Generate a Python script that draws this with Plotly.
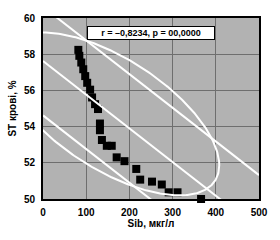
import numpy as np
import plotly.graph_objects as go

# data points (Sib, мкг/л ; ST крові, %)
sib = [81.8, 84.1, 88.6, 93.2, 97.7, 102.3, 109.1, 113.6, 120.5, 127.3, 131.8, 131.8,
       136.4, 147.7, 159.1, 170.5, 188.6, 215.9, 225.0, 252.3, 275.0, 290.9, 311.4, 365.9]
st = [58.24, 57.91, 57.54, 57.17, 56.79, 56.42, 56.04, 55.61, 55.24, 54.97, 54.17, 53.80,
      53.26, 52.94, 52.94, 52.30, 52.09, 51.66, 51.07, 50.96, 50.80, 50.37, 50.37, 50.0]

# regression line and prediction band
reg_intercept = 57.62
reg_slope = -0.0186
band_offset = 3.0
line_x = [0, 500]

# confidence ellipse parameters (data units)
ell_cx, ell_cy = 158.0, 54.7
ell_a, ell_b = 250.0, 4.5
ell_phi = np.arccos(-0.63)

x_ticks = [0, 100, 200, 300, 400, 500]
y_ticks = [50, 52, 54, 56, 58, 60]

FONT = "Liberation Sans, Arial, sans-serif"

fig = go.Figure()

fig.add_trace(go.Scatter(
    x=sib, y=st, mode="markers",
    marker=dict(symbol="square", size=8, color="black", line=dict(width=0)),
    cliponaxis=False, showlegend=False, hoverinfo="skip"))

for off in (band_offset, 0.0, -band_offset):
    ly = [reg_intercept + off + reg_slope * x for x in line_x]
    fig.add_trace(go.Scatter(x=line_x, y=ly, mode="lines",
                             line=dict(color="white", width=2),
                             showlegend=False, hoverinfo="skip"))

t = np.linspace(0, 2 * np.pi, 400)
ex = ell_cx + ell_a * np.cos(t)
ey = ell_cy + ell_b * np.cos(t + ell_phi)
fig.add_trace(go.Scatter(x=ex, y=ey, mode="lines",
                         line=dict(color="white", width=2),
                         showlegend=False, hoverinfo="skip"))

axis_common = dict(
    showgrid=True, gridcolor="#6e6e6e", gridwidth=1,
    showline=True, linecolor="black", linewidth=2, mirror=True,
    zeroline=False, ticks="", fixedrange=True, layer="below traces",
    tickfont=dict(family=FONT, size=10, color="black", weight="bold"),
)

fig.update_layout(
    width=280, height=240,
    margin=dict(l=43, r=17, t=14, b=39),
    paper_bgcolor="white", plot_bgcolor="#b2b2b2",
    xaxis=dict(range=[0, 500], tickvals=x_ticks, ticklabelstandoff=3,
               title=dict(text="Sib, мкг/л", standoff=3,
                          font=dict(family=FONT, size=10, color="black", weight="bold")),
               **axis_common),
    yaxis=dict(range=[50, 60], tickvals=y_ticks, ticklabelstandoff=4,
               title=dict(text="ST крові, %", standoff=5,
                          font=dict(family=FONT, size=10, color="black", weight="bold")),
               **axis_common),
    annotations=[dict(
        text="r = –0,8234, p = 00,0000", xref="paper", yref="paper",
        x=0.5, y=0.917, xanchor="center", yanchor="middle", showarrow=False,
        font=dict(family=FONT, size=9, color="black", weight="bold"),
        bgcolor="white", bordercolor="black", borderwidth=1, borderpad=1,
        width=124, height=10)],
)

fig.write_html("out.html")
